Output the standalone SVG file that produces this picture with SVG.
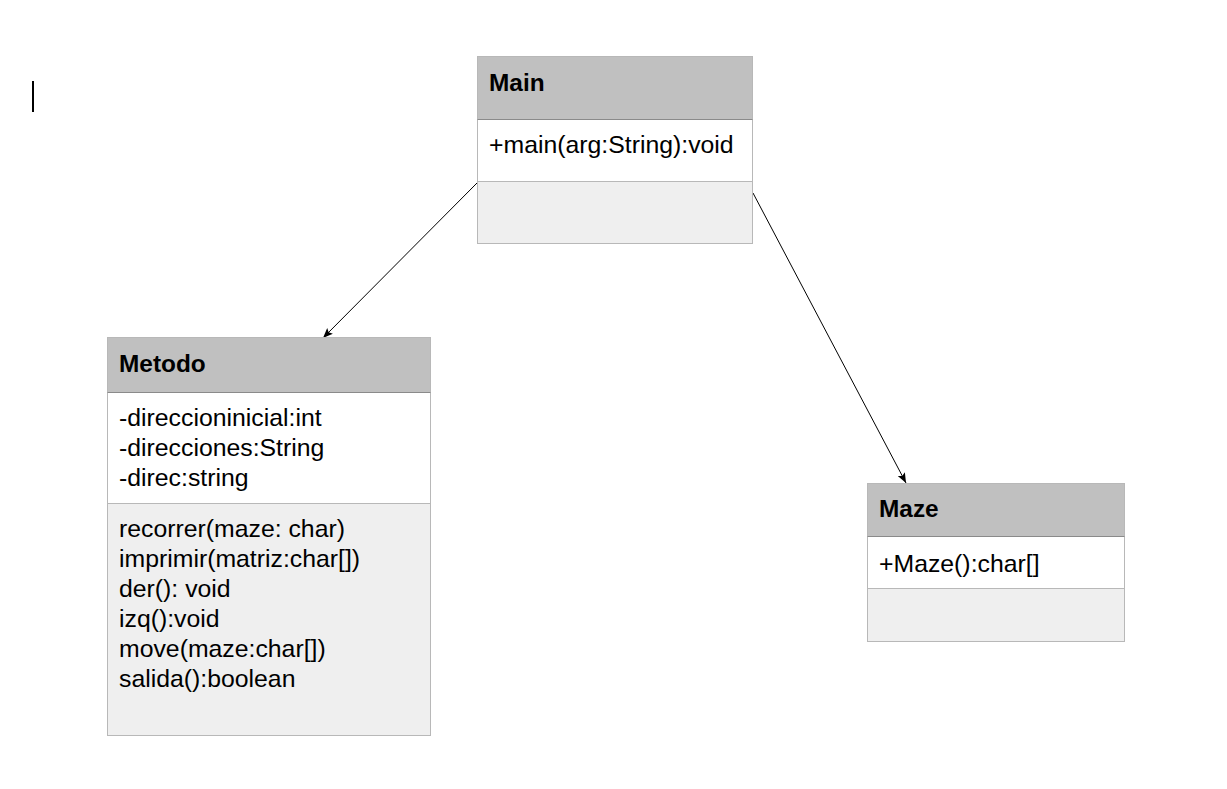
<svg xmlns="http://www.w3.org/2000/svg" width="1227" height="789" viewBox="0 0 1227 789">
<style>
.hdr{fill:#c0c0c0;stroke:#b8b8b8;stroke-width:1}
.att{fill:#ffffff;stroke:#b8b8b8;stroke-width:1}
.met{fill:#efefef;stroke:#b8b8b8;stroke-width:1}
.div{stroke:#8a8a8a;stroke-width:1}
.t{font-family:"Liberation Sans",Arial,sans-serif;font-size:24.8px;fill:#000}
.b{font-family:"Liberation Sans",Arial,sans-serif;font-size:24.4px;font-weight:bold;fill:#000}
.conn{stroke:#000;stroke-width:1;fill:none;marker-end:url(#arr)}
</style>
<defs>
<marker id="arr" viewBox="0 0 10 10" refX="10" refY="5" markerWidth="10" markerHeight="10" markerUnits="userSpaceOnUse" orient="auto">
<path d="M0,1 L10,5 L0,9 L2,5 Z" fill="#000"/>
</marker>
</defs>
<rect x="0" y="0" width="1227" height="789" fill="#fff"/>
<rect x="32" y="81" width="2" height="31" fill="#000"/>
<g id="connectors">
<line class="conn" x1="478" y1="182" x2="323" y2="338"/>
<line class="conn" x1="753" y1="193" x2="906" y2="483"/>
</g>
<g id="Main">
<rect class="hdr" x="477.5" y="56.5" width="275" height="63"/>
<rect class="att" x="477.5" y="119.5" width="275" height="62"/>
<rect class="met" x="477.5" y="181.5" width="275" height="62"/>
<line class="div" x1="477.5" y1="119.5" x2="752.5" y2="119.5"/>
<text class="b" x="489" y="91">Main</text>
<text class="t" x="489" y="153">+main(arg:String):void</text>
</g>
<g id="Metodo">
<rect class="hdr" x="107.5" y="337.5" width="323" height="55"/>
<rect class="att" x="107.5" y="392.5" width="323" height="111"/>
<rect class="met" x="107.5" y="503.5" width="323" height="232"/>
<line class="div" x1="107.5" y1="392.5" x2="430.5" y2="392.5"/>
<text class="b" x="119" y="372">Metodo</text>
<text class="t" x="119" y="426">-direccioninicial:int</text>
<text class="t" x="119" y="456">-direcciones:String</text>
<text class="t" x="119" y="486">-direc:string</text>
<text class="t" x="119" y="537">recorrer(maze: char)</text>
<text class="t" x="119" y="567">imprimir(matriz:char[])</text>
<text class="t" x="119" y="597">der(): void</text>
<text class="t" x="119" y="627">izq():void</text>
<text class="t" x="119" y="657">move(maze:char[])</text>
<text class="t" x="119" y="687">salida():boolean</text>
</g>
<g id="Maze">
<rect class="hdr" x="867.5" y="483.5" width="257" height="53"/>
<rect class="att" x="867.5" y="536.5" width="257" height="52"/>
<rect class="met" x="867.5" y="588.5" width="257" height="53"/>
<line class="div" x1="867.5" y1="536.5" x2="1124.5" y2="536.5"/>
<text class="b" x="879" y="517">Maze</text>
<text class="t" x="879" y="572">+Maze():char[]</text>
</g>
</svg>
